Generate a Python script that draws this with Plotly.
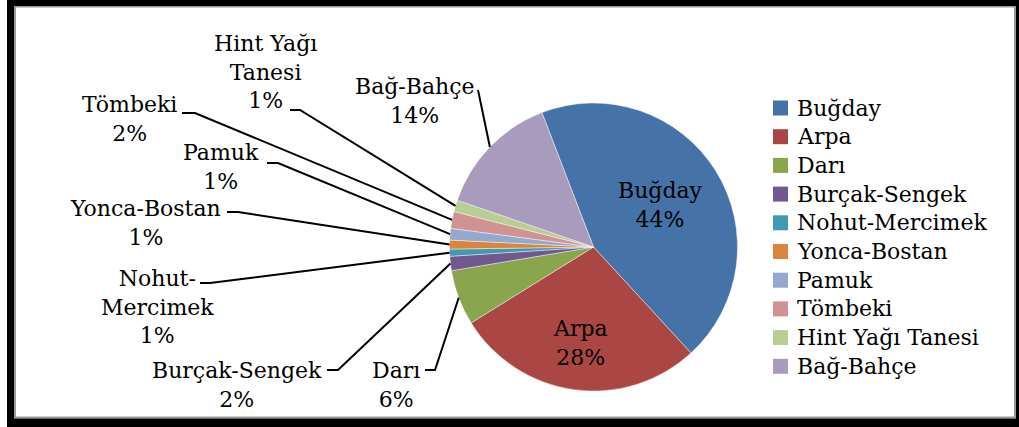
import math
import plotly.graph_objects as go

# ---------------- data ----------------
categories = ["Buğday", "Arpa", "Darı", "Burçak-Sengek", "Nohut-Mercimek",
              "Yonca-Bostan", "Pamuk", "Tömbeki", "Hint Yağı Tanesi", "Bağ-Bahçe"]
values = [44, 28, 6.2, 1.6, 0.8, 1.0, 1.3, 1.9, 1.3, 13.9]
label_names = ["Buğday", "Arpa", "Darı", "Burçak-Sengek", "Nohut-<br>Mercimek",
               "Yonca-Bostan", "Pamuk", "Tömbeki", "Hint Yağı<br>Tanesi", "Bağ-Bahçe"]
colors = ["#4572A7", "#AA4643", "#89A54E", "#71588F", "#4198AF",
          "#DB843D", "#93A9CF", "#D19392", "#B9CD96", "#A99BBD"]

# ---------------- layout constants (pixels) ----------------
W, H = 1019, 427
CX, CY, R = 593.5, 247.0, 144.0
ROTATION = -21
FONT = "DejaVu Serif"
FS = 22

# inside labels: radial fraction ; outside labels: block centre + leader stub
inside = {0: 0.55, 1: 0.67}
outside = {
    2: dict(pos=(396, 385), stub=[(425, 370), (435, 370)]),
    3: dict(pos=(237, 385), stub=[(327, 370), (338, 370)]),
    4: dict(pos=(157, 307), stub=[(200, 283), (210, 283)]),
    5: dict(pos=(145, 223), stub=[(227, 212), (238, 212)]),
    6: dict(pos=(221, 167), stub=[(267, 163), (278, 163)]),
    7: dict(pos=(129, 119), stub=[(182, 113), (195, 113)]),
    8: dict(pos=(265, 72), stub=[(290, 110), (300, 110)]),
    9: dict(pos=(415, 101), stub=[(478, 90)]),
}


def px(x):
    return x / W


def py(y):
    return 1 - y / H


fig = go.Figure()
fig.add_trace(go.Pie(
    labels=categories, values=values, sort=False, direction="clockwise",
    rotation=ROTATION, textinfo="none", showlegend=False,
    marker=dict(colors=colors, line=dict(color="rgba(255,255,255,0.6)", width=0.7)),
    domain=dict(x=[px(CX - R), px(CX + R)], y=[py(CY + R), py(CY - R)]),
    hoverinfo="label+percent",
))

total = sum(values)
annotations = []
shapes = []
cum = 0.0
for i, v in enumerate(values):
    a0 = ROTATION + cum / total * 360
    cum += v
    a1 = ROTATION + cum / total * 360
    mid = math.radians((a0 + a1) / 2)
    pct = round(v / total * 100)
    text = f"{label_names[i]}<br>{pct}%"
    if i in inside:
        f = inside[i]
        x = CX + f * R * math.sin(mid)
        y = CY - f * R * math.cos(mid)
        annotations.append(dict(x=px(x), y=py(y), xref="paper", yref="paper", text=text,
                                showarrow=False, xanchor="center", yanchor="middle",
                                align="center", font=dict(family=FONT, size=FS, color="black")))
    else:
        o = outside[i]
        x, y = o["pos"]
        annotations.append(dict(x=px(x), y=py(y), xref="paper", yref="paper", text=text,
                                showarrow=False, xanchor="center", yanchor="middle",
                                align="center", font=dict(family=FONT, size=FS, color="black")))
        ex = CX + R * math.sin(mid)
        ey = CY - R * math.cos(mid)
        pts = o["stub"] + [(ex, ey)]
        path = "M " + " L ".join(f"{px(a):.5f},{py(b):.5f}" for a, b in pts)
        shapes.append(dict(type="path", path=path, xref="paper", yref="paper",
                           line=dict(color="black", width=2)))

# manual legend
LEG_X0, LEG_SQ, LEG_Y0, LEG_DY, LEG_TX = 773, 15, 108, 28.7, 795
for i, name in enumerate(categories):
    yc = LEG_Y0 + i * LEG_DY
    shapes.append(dict(type="rect", xref="paper", yref="paper",
                       x0=px(LEG_X0), x1=px(LEG_X0 + LEG_SQ),
                       y0=py(yc + LEG_SQ / 2), y1=py(yc - LEG_SQ / 2),
                       fillcolor=colors[i], line=dict(width=0)))
    annotations.append(dict(x=px(LEG_TX), y=py(yc), xref="paper", yref="paper", text=name,
                            showarrow=False, xanchor="left", yanchor="middle",
                            font=dict(family=FONT, size=FS, color="black")))

# frame
def rect(x0, y0, x1, y1, fill=None, line=None):
    d = dict(type="rect", xref="paper", yref="paper", x0=px(x0), x1=px(x1), y0=py(y1), y1=py(y0))
    if fill:
        d["fillcolor"] = fill
        d["line"] = dict(width=0)
    else:
        d["line"] = line
    return d

shapes.append(rect(15, 6.5, 1015, 417.5, line=dict(color="#9a9a9a", width=2)))
shapes.append(rect(7, 0, 14, H, fill="black"))
shapes.append(rect(7, 0, W, 6, fill="black"))
shapes.append(rect(1016, 0, W, H, fill="black"))
shapes.append(rect(7, 418.5, W, H, fill="black"))

fig.update_layout(
    width=W, height=H, margin=dict(l=0, r=0, t=0, b=0),
    paper_bgcolor="white", plot_bgcolor="white",
    annotations=annotations, shapes=shapes, showlegend=False,
)
fig.write_html(
    "out.html",
    config={"displayModeBar": False},
    post_script="document.body.style.margin='0';document.body.style.overflow='hidden';",
)
